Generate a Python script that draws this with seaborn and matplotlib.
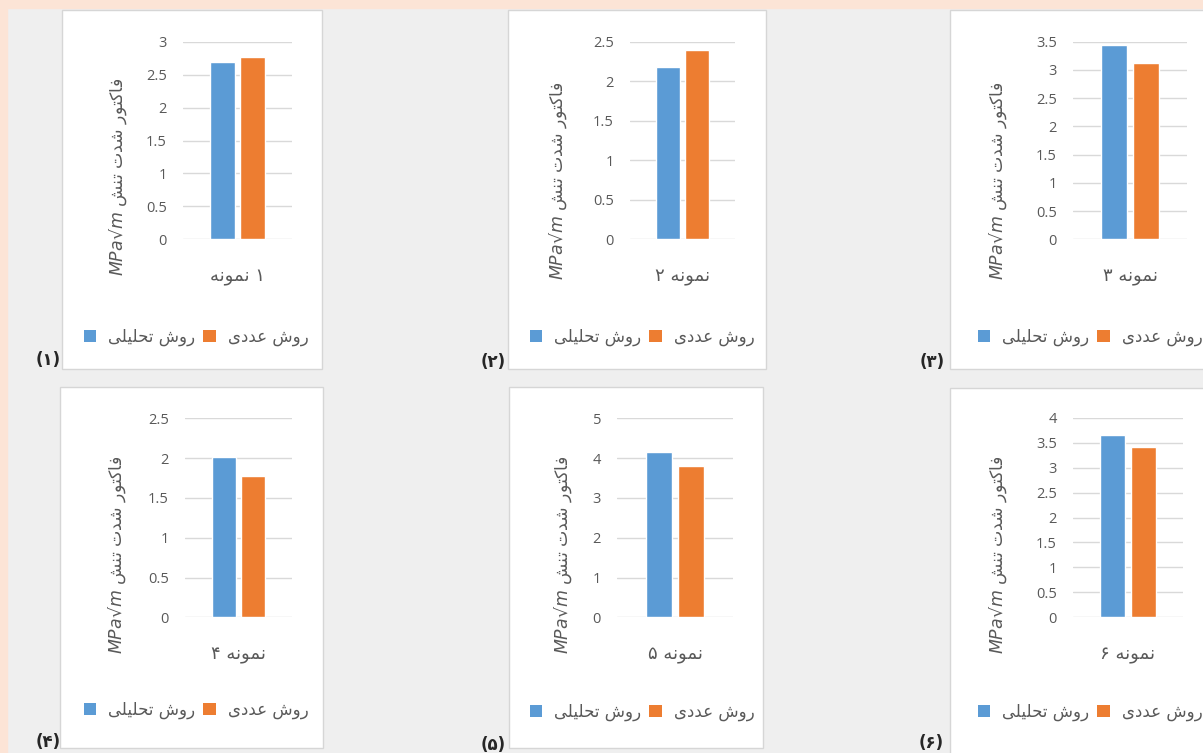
import numpy as np
import pandas as pd
import matplotlib
matplotlib.use("Agg")
import matplotlib.pyplot as plt
from matplotlib.patches import Rectangle, Patch
import seaborn as sns

# ---------------- data (logical Persian strings) ----------------
samples = ["۱ نمونه", "نمونه ۲", "نمونه ۳", "نمونه ۴", "نمونه ۵", "نمونه ۶"]
analytical = [2.69, 2.18, 3.44, 2.02, 4.16, 3.65]
numerical = [2.77, 2.40, 3.13, 1.77, 3.80, 3.42]
y_max = [3, 2.5, 3.5, 2.5, 5, 4]
y_step = [0.5, 0.5, 0.5, 0.5, 1, 0.5]
series_names = ["روش تحلیلی", "روش عددی"]
y_label = "فاکتور شدت تنش MPa√m"
panel_tags = ["(۱)", "(۲)", "(۳)", "(۴)", "(۵)", "(۶)"]
colors = ["#5b9bd5", "#ed7d31"]

# ---------------- minimal Arabic-script shaping + RTL ordering ----------------
FORMS = {
    '\u0627': ('\uFE8D', '\uFE8E', None, None),
    '\u062F': ('\uFEA9', '\uFEAA', None, None),
    '\u0631': ('\uFEAD', '\uFEAE', None, None),
    '\u0648': ('\uFEED', '\uFEEE', None, None),
    '\u062A': ('\uFE95', '\uFE96', '\uFE97', '\uFE98'),
    '\u062D': ('\uFEA1', '\uFEA2', '\uFEA3', '\uFEA4'),
    '\u0634': ('\uFEB5', '\uFEB6', '\uFEB7', '\uFEB8'),
    '\u0639': ('\uFEC9', '\uFECA', '\uFECB', '\uFECC'),
    '\u0641': ('\uFED1', '\uFED2', '\uFED3', '\uFED4'),
    '\u0644': ('\uFEDD', '\uFEDE', '\uFEDF', '\uFEE0'),
    '\u0645': ('\uFEE1', '\uFEE2', '\uFEE3', '\uFEE4'),
    '\u0646': ('\uFEE5', '\uFEE6', '\uFEE7', '\uFEE8'),
    '\u0647': ('\uFEE9', '\uFEEA', '\uFEEB', '\uFEEC'),
    '\u06A9': ('\uFB8E', '\uFB8F', '\uFB90', '\uFB91'),
    '\u06CC': ('\uFBFC', '\uFBFD', '\uFBFE', '\uFBFF'),
}


def shape_word(w):
    out = []
    for i, c in enumerate(w):
        f = FORMS.get(c)
        if f is None:
            out.append(c)
            continue
        prev = w[i - 1] if i > 0 else None
        nxt = w[i + 1] if i < len(w) - 1 else None
        jp = prev in FORMS and FORMS[prev][2] is not None
        jn = f[2] is not None and nxt in FORMS
        out.append(f[3] if (jp and jn) else f[1] if jp else f[2] if jn else f[0])
    return ''.join(out)


def rtl(s):
    vis = []
    for w in reversed(s.split(' ')):
        vis.append(shape_word(w)[::-1] if any(c in FORMS for c in w) else w)
    return ' '.join(vis)


# ---------------- figure ----------------
sns.set_theme(style="white")
plt.rcParams['font.family'] = ['Open Sans', 'DejaVu Sans']
plt.rcParams['mathtext.fontset'] = 'dejavusans'

W, H = 1203, 753
fig = plt.figure(figsize=(W / 100, H / 100), dpi=100)
fig.patch.set_facecolor('#efefef')


def fr(l, t, r, b):
    return [l / W, 1 - b / H, (r - l) / W, (b - t) / H]


peach = '#fce4d6'
fig.add_artist(Rectangle((0, 1 - 8 / H), 1, 8 / H, transform=fig.transFigure,
                         color=peach, zorder=-3))
fig.add_artist(Rectangle((0, 0), 7 / W, 1, transform=fig.transFigure,
                         color=peach, zorder=-3))

panel_boxes = [(62, 10, 322, 369), (508, 10, 766, 369), (950, 10, 1230, 369),
               (60, 387, 323, 748), (509, 387, 763, 748), (950, 388, 1230, 760)]
axes_boxes = [(183, 41.7, 292, 239.3), (630, 41.7, 735, 239.3), (1073, 41.7, 1187, 239.3),
              (185, 418.3, 292, 617.3), (617, 418.3, 733, 617.3), (1073, 417.7, 1183, 617.3)]
ylabel_pos = [(118, 177), (558, 181), (998, 181), (117, 555), (563, 555), (998, 555)]
legend_pos = [(196, 337), (642, 337), (1090, 337), (196, 710), (642, 712), (1090, 712)]
tag_pos = [(48, 360), (493, 362), (932, 362), (48, 742), (493, 745), (931, 743)]

series_vis = [rtl(s) for s in series_names]
ylab_vis = rtl(y_label).replace('MPa√m', r'$MPa$√$m$')

for i in range(6):
    l, t, r, b = panel_boxes[i]
    fig.add_artist(Rectangle((l / W, 1 - b / H), (r - l) / W, (b - t) / H,
                             transform=fig.transFigure, facecolor='white',
                             edgecolor='#d6d6d6', lw=1.0, zorder=-2))
    ax = fig.add_axes(fr(*axes_boxes[i]))
    ax.patch.set_alpha(0)
    df = pd.DataFrame({'sample': [rtl(samples[i])] * 2,
                       'method': series_vis,
                       'value': [analytical[i], numerical[i]]})
    sns.barplot(data=df, x='sample', y='value', hue='method', hue_order=series_vis,
                palette=colors, width=0.55, gap=0.18, saturation=1, errorbar=None,
                legend=False, ax=ax)
    ax.set_xlim(-0.5, 0.5)
    ax.set_ylim(0, y_max[i])
    ticks = np.arange(0, y_max[i] + 1e-9, y_step[i])
    ax.set_yticks(ticks)
    ax.set_yticklabels([f"{v:g}" for v in ticks])
    ax.grid(axis='y', color='#d9d9d9', lw=1.0)
    ax.grid(axis='x', visible=False)
    ax.set_axisbelow(True)
    for s in ax.spines.values():
        s.set_visible(False)
    ax.tick_params(axis='y', length=0, pad=11.5, labelsize=10.5, labelcolor='#595959')
    ax.tick_params(axis='x', length=0, pad=27, labelsize=13, labelcolor='#595959')
    for lbl in ax.get_xticklabels():
        lbl.set_va('center')
        lbl.set_fontfamily('DejaVu Sans')
    ax.set_xlabel('')
    l2, t2, r2, b2 = axes_boxes[i]
    xc, yc = ylabel_pos[i]
    ax.set_ylabel(ylab_vis, fontsize=12.5, color='#595959', family='DejaVu Sans',
                  va='center', ha='center')
    ax.yaxis.set_label_coords((xc - l2) / (r2 - l2), (b2 - yc) / (b2 - t2))

    handles = [Patch(facecolor=c, edgecolor='none') for c in colors]
    lx, ly = legend_pos[i]
    ax.legend(handles, series_vis, loc='center', bbox_to_anchor=(lx / W, 1 - ly / H),
              bbox_transform=fig.transFigure, ncol=2, frameon=False,
              handlelength=0.75, handleheight=0.65, handletextpad=0.7,
              columnspacing=0.5, labelcolor='#595959',
              prop={'family': ['DejaVu Sans'], 'size': 12})

    tx, ty = tag_pos[i]
    fig.text(tx / W, 1 - ty / H, panel_tags[i], ha='center', va='center',
             fontsize=12, fontweight='bold', color='#262626',
             family=['DejaVu Sans'])

fig.savefig('out.png', dpi=100, facecolor=fig.get_facecolor())
